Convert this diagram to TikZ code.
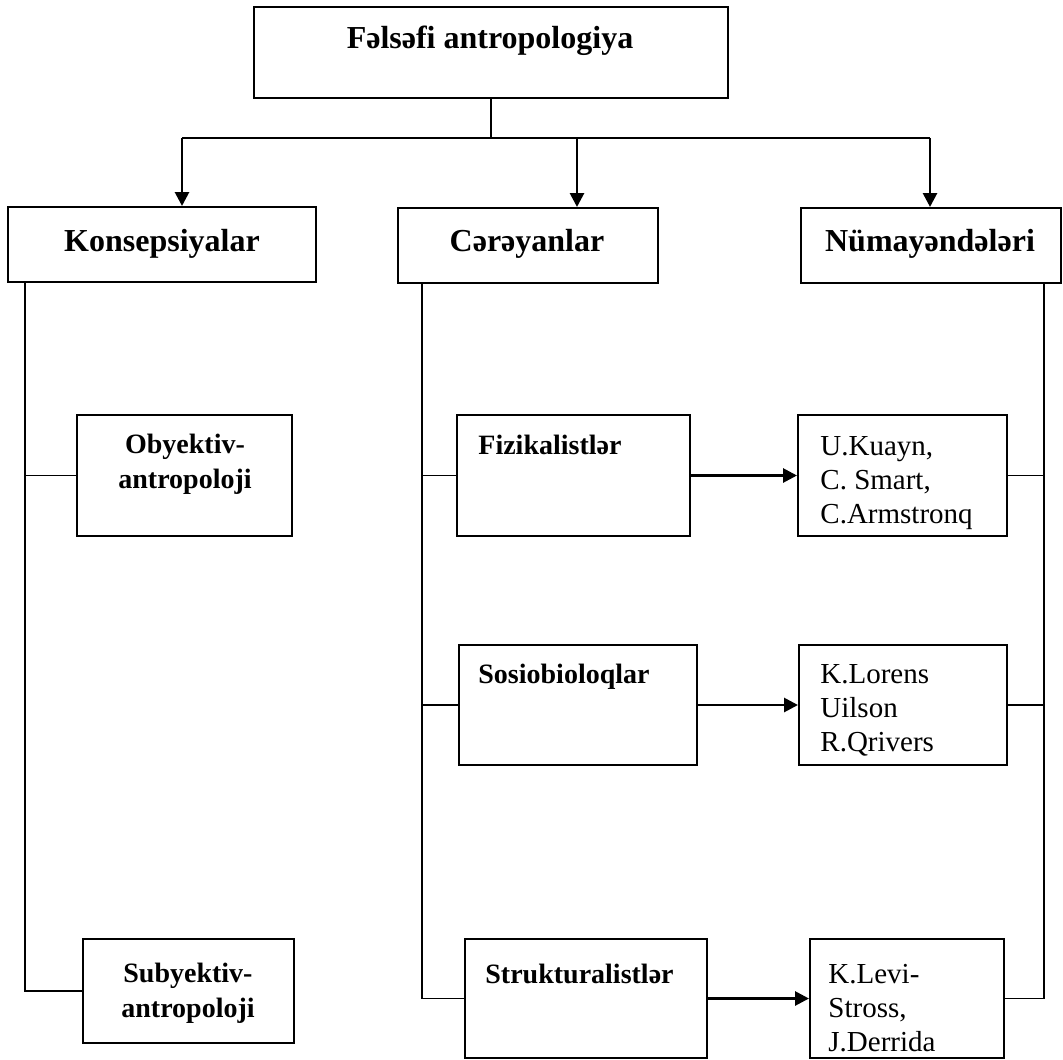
\documentclass[tikz,border=0pt]{standalone}
\usepackage{fontspec}
\setmainfont{Liberation Serif}
\usetikzlibrary{arrows.meta}

\begin{document}
\begin{tikzpicture}[x=0.5pt, y=-0.5pt, >={Triangle[length=7pt,width=7pt]},
	box/.style={draw, line width=1pt, inner sep=0pt},
	head/.style={font=\fontsize{16}{19}\selectfont\bfseries, inner sep=0pt},
	item/.style={font=\fontsize{14}{17.5}\selectfont\bfseries, inner sep=0pt, align=center},
	names/.style={font=\fontsize{14.5}{17}\selectfont, inner sep=0pt, align=left},
	tree/.style={line width=0.9pt},
	link/.style={line width=1.4pt, ->}]
	\useasboundingbox (0,0) rectangle (1063,1059);

	% top
	\node[box, minimum width=237pt, minimum height=45.5pt] (top) at (491,52.5) {};
	\node[head, anchor=base] at (490,49) {Fəlsəfi antropologiya};

	% second row
	\node[box, minimum width=154pt, minimum height=37.5pt] (kons) at (162,244.5) {};
	\node[box, minimum width=130pt, minimum height=37.5pt] (cer) at (528,245.5) {};
	\node[box, minimum width=130pt, minimum height=37.5pt] (num) at (931,245.5) {};
	\node[head, anchor=base] at (162,251) {Konsepsiyalar};
	\node[head, anchor=base] at (527,251) {Cərəyanlar};
	\node[head, anchor=base] at (930,251) {Nümayəndələri};

	% konsepsiyalar
	\node[box, minimum width=107.5pt, minimum height=60.5pt] (oby) at (184.5,475.5) {};
	\node[box, minimum width=105.5pt, minimum height=52pt] (sub) at (188.5,991) {};
	\node[item, anchor=north] at (185,434) {Obyektiv-\\antropoloji};
	\node[item, anchor=north] at (188,963) {Subyektiv-\\antropoloji};

	% cereyanlar
	\node[box, minimum width=116.5pt, minimum height=60.5pt] (fiz) at (573.5,475.5) {};
	\node[box, minimum width=119pt, minimum height=60pt] (sos) at (578,705) {};
	\node[box, minimum width=121pt, minimum height=59.5pt] (str) at (586,998.5) {};
	\node[item, anchor=north west] at (478,435) {Fizikalistlər};
	\node[item, anchor=north west] at (478,664) {Sosiobioloqlar};
	\node[item, anchor=north west] at (485,964) {Strukturalistlər};

	% numayendeleri
	\node[box, minimum width=104.5pt, minimum height=60.5pt] (kua) at (902.5,475.5) {};
	\node[box, minimum width=104pt, minimum height=60pt] (lor) at (903,705) {};
	\node[box, minimum width=97pt, minimum height=59.5pt] (lev) at (907,998.5) {};
	\node[names, anchor=north west] at (820,436) {U.Kuayn,\\C. Smart,\\C.Armstronq};
	\node[names, anchor=north west] at (820,664) {K.Lorens\\Uilson\\R.Qrivers};
	\node[names, anchor=north west] at (828,964) {K.Levi-\\Stross,\\J.Derrida};

	% tree
	\coordinate (ak) at (182,138);
	\coordinate (ac) at (577,138);
	\coordinate (an) at (930,138);
	\draw[tree] (top.south) -- (top.south |- ak);
	\draw[tree] (ak) -- (an);
	\foreach \a/\b in {ak/kons, ac/cer, an/num}
		\draw[link] (\a) -- (\a |- \b.north);

	\coordinate (ltop) at (25,282);
	\coordinate (mtop) at (422,283);
	\coordinate (rtop) at (1044,283);
	\draw[tree] (ltop) |- (sub.west);
	\draw[tree] (ltop |- oby.west) -- (oby.west);
	\draw[tree] (mtop) |- (str.west);
	\draw[tree] (mtop |- fiz.west) -- (fiz.west);
	\draw[tree] (mtop |- sos.west) -- (sos.west);
	\draw[tree] (rtop) |- (lev.east);
	\draw[tree] (rtop |- kua.east) -- (kua.east);
	\draw[tree] (rtop |- lor.east) -- (lor.east);

	\draw[link] (fiz) -- (kua);
	\draw[link] (sos) -- (lor);
	\draw[link] (str) -- (lev);
\end{tikzpicture}
\end{document}
